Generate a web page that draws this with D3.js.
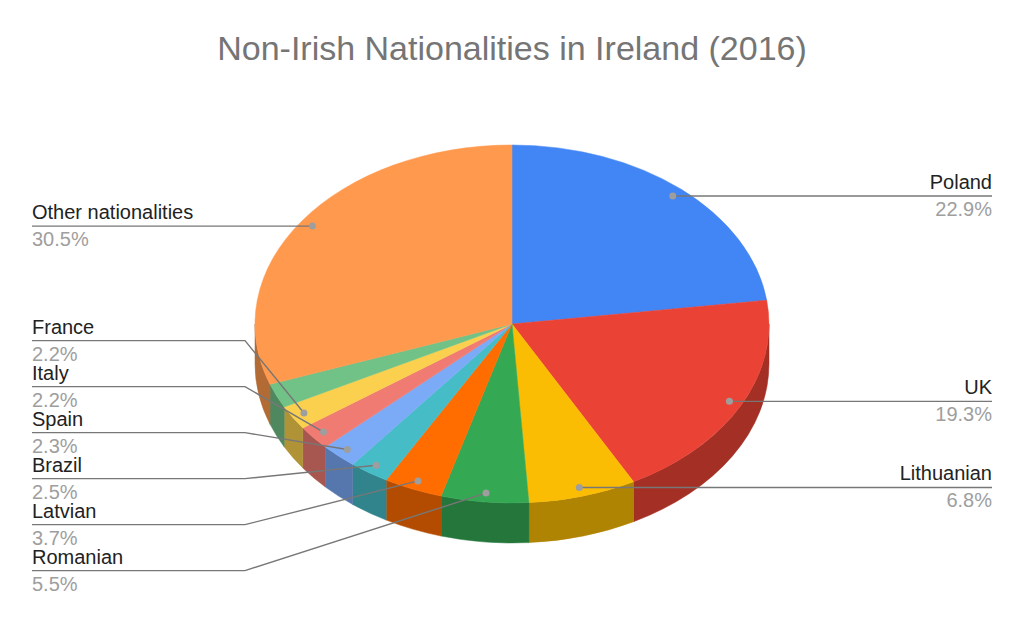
<!DOCTYPE html>
<html lang="en">

<head>
  <meta charset="UTF-8" />
  <title>Non-Irish Nationalities in Ireland (2016)</title>
  <script src="https://d3js.org/d3.v7.min.js"></script>
  <style>
    body {
      margin: 0;
      background: #ffffff;
    }

    svg {
      display: block;
      font-family: Arial, "Liberation Sans", sans-serif;
    }
  </style>
</head>

<body>
  <div id="chart"></div>

  <script>
    // Dados (percentagens, sentido horário a partir do topo)
    const nationalities = ["Poland", "UK", "Lithuanian", "Romanian", "Latvian", "Brazil",
      "Spain", "Italy", "France", "Germany", "Other nationalities"];
    const shares = [22.9, 19.3, 6.8, 5.5, 3.7, 2.5, 2.3, 2.2, 2.2, 2.2, 30.5];
    const sliceColors = ["#4285f4", "#ea4335", "#fbbc04", "#34a853", "#ff6d01", "#46bdc6",
      "#7baaf7", "#f07b72", "#fcd04f", "#71c287", "#ff994d"];
    const unlabeled = ["Germany"]; // fatia fina demais, sem rótulo no original

    const data = nationalities.map((name, i) => ({ name, share: shares[i] }));

    // Tamanho e geometria da pizza 3D
    const width = 1024,
      height = 633;
    const cx = 512,
      cy = 324,
      rx = 257,
      ry = 179,
      depth = 40;
    const dotRadius = 0.95; // posição do ponto do rótulo (fração do raio)
    const labelGap = 46;
    const leftX = 32,
      rightX = 992,
      elbowLeft = 245,
      elbowRight = 780;

    const svg = d3
      .select("#chart")
      .append("svg")
      .attr("width", width)
      .attr("height", height);

    svg.append("text")
      .attr("x", width / 2)
      .attr("y", 60)
      .attr("text-anchor", "middle")
      .attr("fill", "#757575")
      .style("font-size", "34px")
      .text("Non-Irish Nationalities in Ireland (2016)");

    const color = d3.scaleOrdinal().domain(nationalities).range(sliceColors);
    const slices = d3.pie().sort(null).value(d => d.share)(data);

    // Projeção de um ângulo (0 = topo, sentido horário) na elipse
    const pt = (a, k = 1, dy = 0) => [cx + rx * k * Math.sin(a), cy - ry * k * Math.cos(a) + dy];

    function topPath(d) {
      const [x0, y0] = pt(d.startAngle);
      const [x1, y1] = pt(d.endAngle);
      const large = d.endAngle - d.startAngle > Math.PI ? 1 : 0;
      return `M${cx},${cy}L${x0},${y0}A${rx},${ry} 0 ${large} 1 ${x1},${y1}Z`;
    }

    function sidePath(d) {
      const a0 = Math.max(d.startAngle, Math.PI / 2);
      const a1 = Math.min(d.endAngle, 3 * Math.PI / 2);
      if (a1 <= a0) return null;
      const [x0, y0] = pt(a0);
      const [x1, y1] = pt(a1);
      return `M${x0},${y0}A${rx},${ry} 0 0 1 ${x1},${y1}` +
        `L${x1},${y1 + depth}A${rx},${ry} 0 0 0 ${x0},${y0 + depth}Z`;
    }

    const pieG = svg.append("g");

    // Laterais (parte da frente), mais escuras
    pieG.selectAll("path.side")
      .data(slices.filter(d => sidePath(d)))
      .join("path")
      .attr("class", "side")
      .attr("d", sidePath)
      .attr("fill", d => d3.color(color(d.data.name)).darker(1))
      .attr("stroke", d => d3.color(color(d.data.name)).darker(1))
      .attr("stroke-width", 0.5);

    // Topo
    pieG.selectAll("path.top")
      .data(slices)
      .join("path")
      .attr("class", "top")
      .attr("d", topPath)
      .attr("fill", d => color(d.data.name))
      .attr("stroke", d => color(d.data.name))
      .attr("stroke-width", 0.5);

    // Rótulos
    const labels = slices
      .filter(d => !unlabeled.includes(d.data.name))
      .map(d => {
        const mid = (d.startAngle + d.endAngle) / 2;
        const [dotX, dotY] = pt(mid, dotRadius);
        return {
          name: d.data.name,
          pct: d.data.share.toFixed(1) + "%",
          dotX, dotY,
          left: Math.sin(mid) < 0
        };
      });

    // Empilha rótulos que colidem, centrando cada grupo na média dos pontos
    function spread(items) {
      items.sort((a, b) => a.dotY - b.dotY);
      let groups = items.map(it => ({ items: [it], y: it.dotY }));
      let merged = true;
      while (merged) {
        merged = false;
        for (let i = 0; i < groups.length - 1; i++) {
          const g = groups[i], h = groups[i + 1];
          const gBottom = g.y + (g.items.length - 1) * labelGap / 2;
          const hTop = h.y - (h.items.length - 1) * labelGap / 2;
          if (hTop - gBottom < labelGap) {
            const all = g.items.concat(h.items);
            groups.splice(i, 2, { items: all, y: d3.mean(all, d => d.dotY) });
            merged = true;
            break;
          }
        }
      }
      groups.forEach(g => g.items.forEach((it, i) => {
        it.lineY = g.y + (i - (g.items.length - 1) / 2) * labelGap;
      }));
    }
    spread(labels.filter(d => d.left));
    spread(labels.filter(d => !d.left));

    const labelG = svg.append("g");

    labelG.selectAll("path")
      .data(labels)
      .join("path")
      .attr("fill", "none")
      .attr("stroke", "#777777")
      .attr("stroke-width", 1.4)
      .attr("d", d => d.left
        ? `M${leftX},${d.lineY}L${elbowLeft},${d.lineY}L${d.dotX},${d.dotY}`
        : `M${d.dotX},${d.dotY}L${elbowRight},${d.lineY}L${rightX},${d.lineY}`);

    labelG.selectAll("circle")
      .data(labels)
      .join("circle")
      .attr("cx", d => d.dotX)
      .attr("cy", d => d.dotY)
      .attr("r", 3.5)
      .attr("fill", "#9e9e9e");

    labelG.selectAll("text.name")
      .data(labels)
      .join("text")
      .attr("class", "name")
      .attr("x", d => d.left ? leftX : rightX)
      .attr("y", d => d.lineY - 7)
      .attr("text-anchor", d => d.left ? "start" : "end")
      .attr("fill", "#222222")
      .style("font-size", "20px")
      .text(d => d.name);

    labelG.selectAll("text.pct")
      .data(labels)
      .join("text")
      .attr("class", "pct")
      .attr("x", d => d.left ? leftX : rightX)
      .attr("y", d => d.lineY + 20)
      .attr("text-anchor", d => d.left ? "start" : "end")
      .attr("fill", "#9e9e9e")
      .style("font-size", "20px")
      .text(d => d.pct);
  </script>
</body>

</html>
